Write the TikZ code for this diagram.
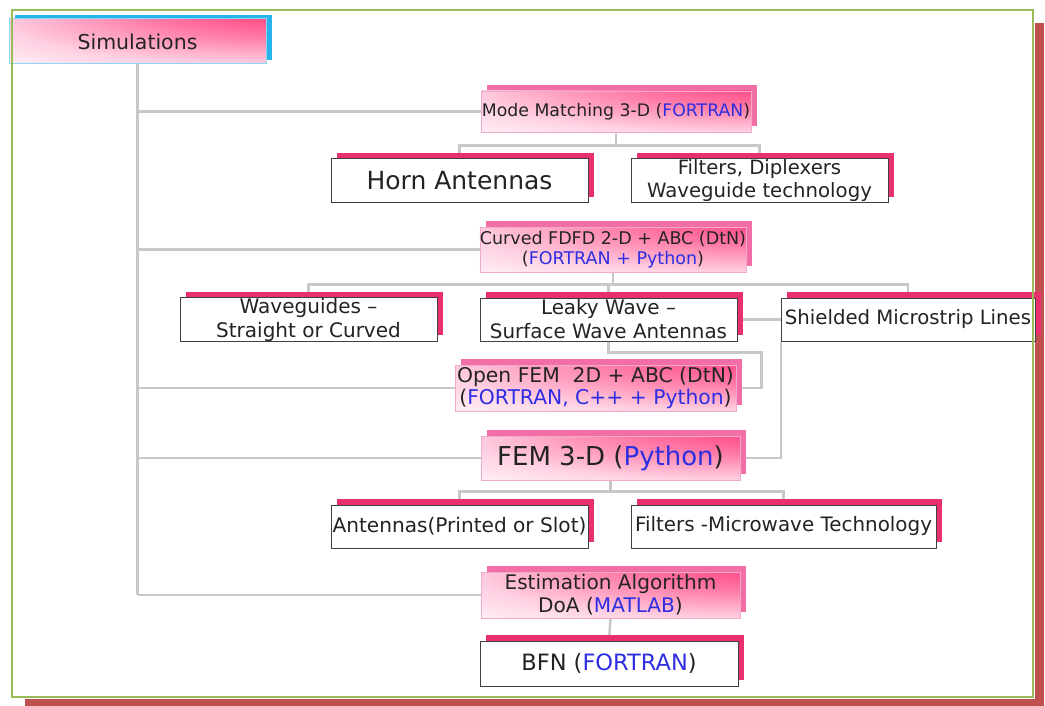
\documentclass[tikz,border=0pt]{standalone}
\usepackage{fontspec}
\setmainfont{DejaVu Sans}
\usetikzlibrary{shadows,calc}
\definecolor{frgreen}{RGB}{155,187,89}
\definecolor{frred}{RGB}{192,80,77}
\definecolor{shpink}{RGB}{232,48,110}
\definecolor{gshpink}{RGB}{242,110,165}
\definecolor{gpink}{RGB}{255,55,120}
\definecolor{gpa}{RGB}{255,120,165}
\definecolor{gpb}{RGB}{255,210,228}
\definecolor{gborder}{RGB}{240,170,205}
\definecolor{cyanS}{RGB}{40,180,235}
\definecolor{cyanB}{RGB}{140,215,240}
\definecolor{txt}{RGB}{35,35,35}
\definecolor{blu}{RGB}{45,45,225}
\definecolor{lin}{RGB}{200,200,200}
\pgfdeclareradialshading{corner}{\pgfpoint{45bp}{50bp}}{color(0bp)=(gpink); color(12bp)=(gpink); color(30bp)=(gpa); color(50bp)=(gpb); color(68bp)=(white); color(100bp)=(white)}
\pgfdeclarelayer{bg}
\pgfdeclarelayer{lines}
\pgfdeclarelayer{top}
\pgfsetlayers{bg,lines,main,top}
\newcommand{\fsz}[2]{\fontsize{#1}{#2}\selectfont}
\newcommand{\bl}[1]{\textcolor{blu}{#1}}
\begin{document}
\begin{tikzpicture}[x=1pt,y=-1pt,
  conn/.style={draw=lin,line width=2.5},
  wbox/.style={draw=black!75,line width=1,fill=white,text=txt,inner sep=0,align=center,
    general shadow={shadow xshift=6,shadow yshift=-6,fill=shpink}},
  gbox/.style={draw=gborder,line width=0.8,shading=corner,text=txt,inner sep=0,align=center,
    general shadow={shadow xshift=6,shadow yshift=-6,fill=gshpink}},
  sbox/.style={draw=cyanB,line width=1,shading=corner,text=txt,inner sep=0,align=center,
    general shadow={shadow xshift=6,shadow yshift=-4,fill=cyanS}}]
\useasboundingbox (0,0) rectangle (1045,706);
\begin{pgfonlayer}{bg}
\fill[frred] (25,23) rectangle (1044,706);
\fill[white] (12,10) rectangle (1035,699);
\end{pgfonlayer}

\node[sbox,minimum width=257,minimum height=45,font=\fsz{20.5}{24}] (sim) at (137.5,41.5) {Simulations};
\node[gbox,minimum width=270,minimum height=41,font=\fsz{17.3}{20}] (mm) at (616,111.5) {Mode Matching 3-D (\bl{FORTRAN})};
\node[wbox,minimum width=257,minimum height=44,font=\fsz{25}{28}] (horn) at (459.5,181) {Horn Antennas};
\node[wbox,minimum width=257,minimum height=44,font=\fsz{19.7}{23}] (filt) at (759.5,181) {Filters, Diplexers\\Waveguide technology};
\node[gbox,minimum width=266,minimum height=45,font=\fsz{17.5}{20}] (fdfd) at (613,249.5) {Curved FDFD 2-D + ABC (DtN)\\(\bl{FORTRAN + Python})};
\node[wbox,minimum width=257,minimum height=43,font=\fsz{20}{24}] (wg) at (308.5,319.5) {Waveguides --\\Straight or Curved};
\node[wbox,minimum width=257,minimum height=43,font=\fsz{19.9}{24}] (leaky) at (608.5,319.5) {Leaky Wave --\\Surface Wave Antennas};
\node[wbox,minimum width=254,minimum height=43,font=\fsz{19.7}{23}] (shield) at (908,319.5) {Shielded Microstrip Lines};
\node[gbox,minimum width=281,minimum height=46,font=\fsz{20.3}{22}] (ofem) at (595.5,388) {Open FEM\ \ 2D + ABC (DtN)\\(\bl{FORTRAN, C++ + Python})};
\node[gbox,minimum width=259,minimum height=44,font=\fsz{26}{30}] (fem) at (610.5,458) {FEM 3-D (\bl{Python})};
\node[wbox,minimum width=257,minimum height=43,font=\fsz{20.1}{24}] (ant) at (459.5,526.5) {Antennas(Printed or Slot)};
\node[wbox,minimum width=305,minimum height=43,font=\fsz{19.9}{24}] (fmw) at (783.5,526.5) {Filters -Microwave Technology};
\node[gbox,minimum width=259,minimum height=46,font=\fsz{20.1}{23}] (est) at (610.5,595) {Estimation Algorithm\\DoA (\bl{MATLAB})};
\node[wbox,minimum width=258,minimum height=45,font=\fsz{22.5}{26}] (bfn) at (609,663.5) {BFN (\bl{FORTRAN})};

\begin{pgfonlayer}{lines}
\draw[conn] (sim.south) -- (sim.south |- est.west);
\draw[conn] (sim.south |- mm.west) -- (mm.west);
\draw[conn] (sim.south |- fdfd.west) -- (fdfd.west);
\draw[conn] (sim.south |- ofem.west) -- (ofem.west);
\draw[conn] (sim.south |- fem.west) -- (fem.west);
\draw[conn] (sim.south |- est.west) -- (est.west);
\draw[conn] (mm.south) -- ++(0,13) coordinate (b1);
\draw[conn] (horn.north) |- (b1) -| (filt.north);
\draw[conn] (fdfd.south) -- ++(0,12) coordinate (b2);
\draw[conn] (wg.north) |- (b2) -| (shield.north);
\draw[conn] (b2) -| (leaky.north);
\draw[conn] (leaky.east) -- (shield.west);
\draw[conn] (leaky.south) -- ++(0,11) -| ($(ofem.east)+(25,0)$) -- (ofem.east);
\draw[conn] ($(shield.south west)+(0.5,0)$) -- ($(shield.south west |- fem.east)+(0.5,0)$) -- (fem.east);
\draw[conn] (fem.south) -- ++(0,11) coordinate (b3);
\draw[conn] (ant.north) |- (b3) -| (fmw.north);
\draw[conn] (est.south) -- (bfn.north);
\end{pgfonlayer}

\begin{pgfonlayer}{top}
\draw[frgreen,line width=2] (12,10) rectangle (1033,697);
\end{pgfonlayer}
\end{tikzpicture}
\end{document}
